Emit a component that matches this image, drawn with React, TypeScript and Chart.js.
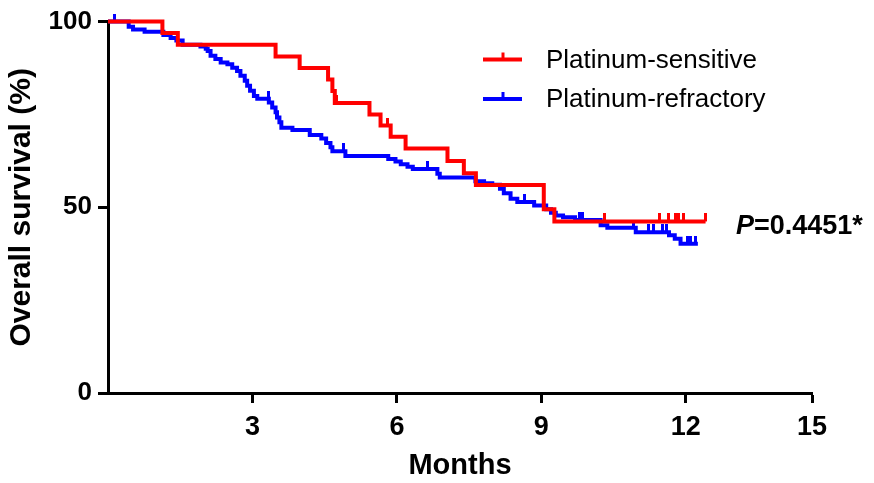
import React, { useEffect, useRef } from "react";
import { Chart, registerables } from "chart.js";

Chart.register(...registerables);

// ---- Axis / ticks ----
const X_MAX = 14.62;
const X_TICK_VALUES = [3, 6, 9, 12, 14.62];
const X_TICK_LABELS = ["3", "6", "9", "12", "15"];
const Y_TICK_VALUES = [0, 50, 100];
const X_TITLE = "Months";
const Y_TITLE = "Overall survival (%)";
const P_LABEL = "P";
const P_VALUE_TEXT = "=0.4451*";

// ---- Platinum-sensitive ----
const SENS_LABEL = "Platinum-sensitive";
const SENS_TIMES = [0, 1.13, 1.45, 3.48, 3.98, 4.57, 4.66, 4.71, 5.43, 5.66, 5.87, 6.18, 7.05, 7.39, 7.64, 9.05, 9.27, 12.41];
const SENS_SURV = [100, 96.9, 93.8, 90.6, 87.5, 84.4, 81.3, 78.1, 75.0, 72.0, 69.0, 65.8, 62.5, 59.2, 56.0, 49.5, 46.2, 46.2];
const SENS_CENSOR = [4.75, 5.81, 10.31, 11.46, 11.65, 11.79, 11.85, 11.96, 12.41];

// ---- Platinum-refractory ----
const REFR_LABEL = "Platinum-refractory";
const REFR_TIMES = [0, 0.43, 0.52, 0.76, 1.15, 1.3, 1.42, 1.55, 1.92, 2.03, 2.07, 2.13, 2.23, 2.34, 2.48, 2.58, 2.68, 2.75, 2.84, 2.89, 2.95, 3.03, 3.1, 3.34, 3.41, 3.48, 3.51, 3.56, 3.6, 3.83, 4.19, 4.43, 4.53, 4.62, 4.66, 4.93, 5.82, 5.97, 6.08, 6.22, 6.33, 6.84, 6.89, 7.63, 7.81, 7.98, 8.14, 8.22, 8.36, 8.5, 8.85, 9.1, 9.2, 9.3, 9.45, 9.7, 10.23, 10.37, 10.96, 11.65, 11.77, 11.89, 12.25];
const REFR_SURV = [100, 98.6, 97.9, 97.3, 96.4, 95.6, 94.9, 93.8, 93.3, 92.7, 92.1, 90.8, 89.9, 89.0, 88.5, 87.6, 86.7, 85.4, 84.1, 82.7, 81.4, 80.0, 79.2, 78.2, 76.9, 75.6, 74.2, 72.9, 71.4, 70.8, 69.5, 68.5, 67.3, 66.2, 65.1, 63.8, 63.0, 62.3, 61.6, 60.9, 60.3, 59.0, 58.0, 57.0, 56.5, 56.1, 55.0, 53.8, 52.3, 51.4, 50.5, 49.5, 48.5, 47.8, 47.3, 46.6, 45.2, 44.5, 43.3, 42.5, 41.5, 40.2, 40.2];
const REFR_CENSOR = [0.14, 3.33, 4.89, 6.64, 8.64, 9.8, 9.86, 10.92, 11.22, 11.32, 11.51, 11.59, 12.03, 12.1, 12.2];

const RED = "#ff0000";
const BLUE = "#0000ff";
const FONT = "'Liberation Sans', Arial, Helvetica, sans-serif";

function survAt(times: number[], surv: number[], t: number) {
  let v = surv[0];
  for (let i = 0; i < times.length; i++) if (times[i] <= t) v = surv[i];
  return v;
}

function makeTick(color: string) {
  const c = document.createElement("canvas");
  c.width = 3;
  c.height = 16;
  const g = c.getContext("2d")!;
  g.fillStyle = color;
  g.fillRect(0, 0, 3, 8);
  return c;
}

const legendPlugin = {
  id: "kmLegend",
  afterDraw(chart: any) {
    const ctx = chart.ctx;
    const rows = [
      { ds: chart.data.datasets[0], y: 59.5 },
      { ds: chart.data.datasets[1], y: 99 },
    ];
    ctx.save();
    rows.forEach(({ ds, y }) => {
      ctx.strokeStyle = ds.borderColor;
      ctx.lineWidth = 4;
      ctx.beginPath();
      ctx.moveTo(483, y);
      ctx.lineTo(522, y);
      ctx.stroke();
      ctx.lineWidth = 3;
      ctx.beginPath();
      ctx.moveTo(503, y);
      ctx.lineTo(503, y - 7);
      ctx.stroke();
      ctx.fillStyle = "#000";
      ctx.font = `26px ${FONT}`;
      ctx.textAlign = "left";
      ctx.textBaseline = "middle";
      ctx.fillText(ds.label, 546, y + 1);
    });
    ctx.restore();
  },
};

const pPlugin = {
  id: "pValue",
  afterDraw(chart: any) {
    const ctx = chart.ctx;
    ctx.save();
    ctx.fillStyle = "#000";
    ctx.textBaseline = "middle";
    ctx.textAlign = "left";
    ctx.font = `italic bold 27px ${FONT}`;
    const x0 = 736;
    const y0 = 227;
    ctx.fillText(P_LABEL, x0, y0);
    const w = ctx.measureText(P_LABEL).width;
    ctx.font = `bold 27px ${FONT}`;
    ctx.fillText(P_VALUE_TEXT, x0 + w, y0);
    ctx.restore();
  },
};

export default function App() {
  const ref = useRef<HTMLCanvasElement | null>(null);

  useEffect(() => {
    document.body.style.margin = "0";
    const canvas = ref.current!;
    const redTick = makeTick(RED);
    const blueTick = makeTick(BLUE);

    const chart = new Chart(canvas, {
      type: "line",
      data: {
        datasets: [
          {
            label: SENS_LABEL,
            data: SENS_TIMES.map((t, i) => ({ x: t, y: SENS_SURV[i] })),
            borderColor: RED,
            backgroundColor: RED,
            borderWidth: 4,
            stepped: "before",
            pointRadius: 0,
            fill: false,
            clip: false,
            order: 1,
          },
          {
            label: REFR_LABEL,
            data: REFR_TIMES.map((t, i) => ({ x: t, y: REFR_SURV[i] })),
            borderColor: BLUE,
            backgroundColor: BLUE,
            borderWidth: 4,
            stepped: "before",
            pointRadius: 0,
            fill: false,
            clip: false,
            order: 2,
          },
          {
            label: SENS_LABEL + " censored",
            data: SENS_CENSOR.map((t) => ({ x: t, y: survAt(SENS_TIMES, SENS_SURV, t) })),
            showLine: false,
            pointStyle: redTick as any,
            pointRadius: 1,
            pointHoverRadius: 1,
            clip: false,
            order: 0,
          },
          {
            label: REFR_LABEL + " censored",
            data: REFR_CENSOR.map((t) => ({ x: t, y: survAt(REFR_TIMES, REFR_SURV, t) })),
            showLine: false,
            pointStyle: blueTick as any,
            pointRadius: 1,
            pointHoverRadius: 1,
            clip: false,
            order: 3,
          },
        ] as any,
      },
      options: {
        animation: false,
        responsive: false,
        events: [],
        layout: { padding: { top: 21, right: 62, bottom: 0, left: 0 } },
        plugins: {
          legend: { display: false },
          tooltip: { enabled: false },
        },
        scales: {
          x: {
            type: "linear",
            min: 0,
            max: X_MAX,
            afterBuildTicks: (scale: any) => {
              scale.ticks = X_TICK_VALUES.map((v) => ({ value: v }));
            },
            afterFit: (scale: any) => {
              scale.height = 90;
            },
            ticks: {
              color: "#000",
              font: { family: FONT, size: 27, weight: "bold" },
              padding: 8,
              maxRotation: 0,
              autoSkip: false,
              callback: (v: any) => {
                const i = X_TICK_VALUES.indexOf(Number(v));
                return i >= 0 ? X_TICK_LABELS[i] : "";
              },
            },
            grid: {
              drawOnChartArea: false,
              drawTicks: true,
              tickLength: 10,
              tickWidth: 3,
              tickColor: "#000",
            },
            border: { display: true, color: "#000", width: 3 },
            title: {
              display: true,
              text: X_TITLE,
              color: "#000",
              font: { family: FONT, size: 29, weight: "bold" },
              padding: { top: 0, bottom: 0 },
            },
          },
          y: {
            type: "linear",
            min: 0,
            max: 100,
            afterBuildTicks: (scale: any) => {
              scale.ticks = Y_TICK_VALUES.map((v) => ({ value: v }));
            },
            afterFit: (scale: any) => {
              scale.width = 108;
            },
            ticks: {
              color: "#000",
              font: { family: FONT, size: 26, weight: "bold" },
              padding: 6,
            },
            grid: {
              drawOnChartArea: false,
              drawTicks: true,
              tickLength: 10,
              tickWidth: 3,
              tickColor: "#000",
            },
            border: { display: true, color: "#000", width: 3 },
            title: {
              display: true,
              text: Y_TITLE,
              color: "#000",
              font: { family: FONT, size: 30, weight: "bold" },
              padding: { top: 4, bottom: 0 },
            },
          },
        },
      } as any,
      plugins: [legendPlugin, pPlugin],
    });

    return () => chart.destroy();
  }, []);

  return (
    <div style={{ width: 874, height: 483 }}>
      <canvas ref={ref} width={874} height={483} style={{ display: "block", width: 874, height: 483 }} />
    </div>
  );
}
